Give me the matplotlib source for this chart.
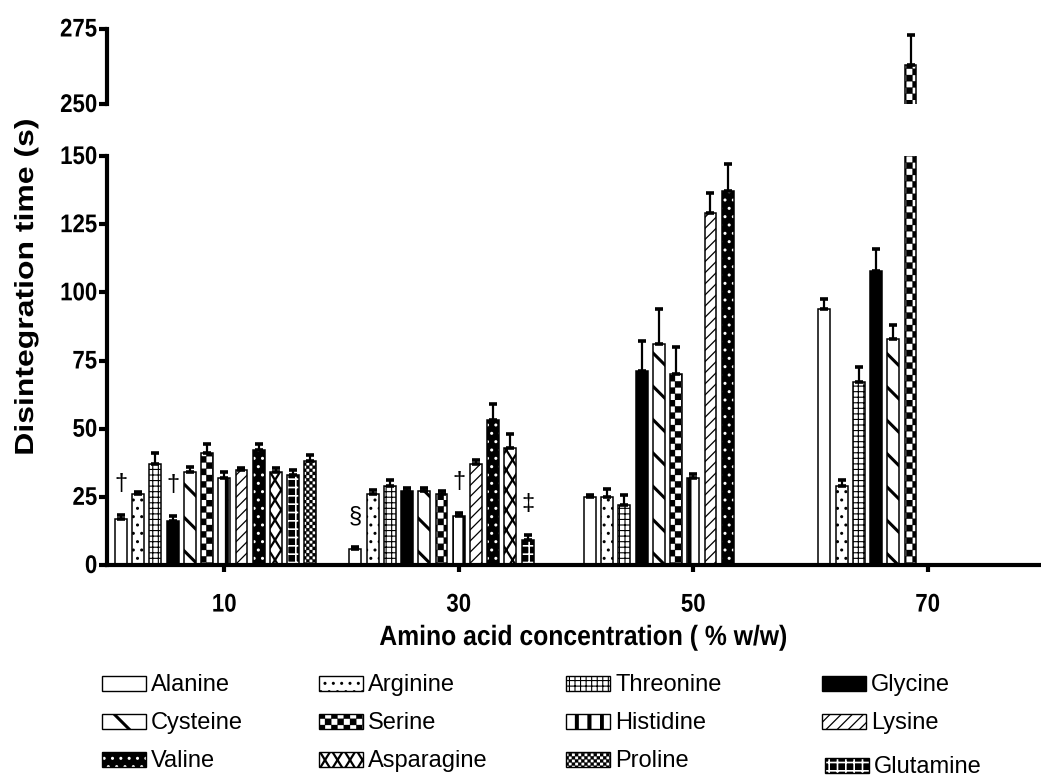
import warnings
import numpy as np
import matplotlib
matplotlib.use("Agg")
import matplotlib.pyplot as plt
from matplotlib import hatch as mhatch
from matplotlib import patheffects
from matplotlib.path import Path
from matplotlib.transforms import Affine2D
from matplotlib.patches import Rectangle

warnings.filterwarnings("ignore", category=matplotlib.MatplotlibDeprecationWarning)

# ---------------------------------------------------------------- data
concentrations = ["10", "30", "50", "70"]
amino_acids = ["Alanine", "Arginine", "Threonine", "Glycine", "Cysteine",
               "Serine", "Histidine", "Lysine", "Valine", "Asparagine",
               "Glutamine", "Proline"]
nan = np.nan
# mean disintegration time (s), one list per concentration, in amino_acids order
mean_10 = [17, 26, 37, 16, 34, 41, 32, 35, 42, 34, 33, 38]
mean_30 = [6, 26, 29, 27, 27, 26, 18, 37, 53, 43, 9, nan]
mean_50 = [25, 25, 22, 71, 81, 70, 32, 129, 137, nan, nan, nan]
mean_70 = [94, 29, 67, 108, 83, 263, nan, nan, nan, nan, nan, nan]
# standard deviations (upper error bars)
sd_10 = [1.5, 0.6, 4, 2, 2, 3.5, 2, 0.7, 2.5, 1.5, 2, 2.4]
sd_30 = [0.6, 1.6, 2, 1.4, 1.4, 1, 1.2, 1.5, 6, 5, 2, nan]
sd_50 = [0.8, 3, 3.5, 11, 13, 10, 1.4, 7.5, 10, nan, nan, nan]
sd_70 = [3.5, 2, 5.5, 8, 5, 10, nan, nan, nan, nan, nan, nan]
# significance marks: (symbol, concentration index, amino acid)
marks = [("\u2020", 0, "Alanine"), ("\u2020", 0, "Glycine"),
         ("\u00a7", 1, "Alanine"), ("\u2020", 1, "Histidine"),
         ("\u2021", 1, "Glutamine")]
legend_rows = [["Alanine", "Arginine", "Threonine", "Glycine"],
               ["Cysteine", "Serine", "Histidine", "Lysine"],
               ["Valine", "Asparagine", "Proline", "Glutamine"]]


# ------------------------------------------------------- extra hatches
class Chequer(mhatch.HatchPatternBase):
    """Filled chequerboard squares; 'c' coarse, 'cc' fine."""
    def __init__(self, hatch, density):
        k = hatch.count("c")
        self.n = 16 * k
        self.num_vertices = (self.n * self.n // 2) * 5

    def set_vertices_and_codes(self, vertices, codes):
        n = self.n
        s = 1.0 / n
        k = 0
        for i in range(n):
            for j in range(n):
                if (i + j) % 2:
                    continue
                x0, y0 = i * s, j * s
                vertices[k:k + 5] = [(x0, y0), (x0 + s, y0), (x0 + s, y0 + s),
                                     (x0, y0 + s), (x0, y0)]
                codes[k] = Path.MOVETO
                codes[k + 1:k + 4] = Path.LINETO
                codes[k + 4] = Path.CLOSEPOLY
                k += 5


class WideStripes(mhatch.HatchPatternBase):
    """Thick filled vertical stripes ('v')."""
    def __init__(self, hatch, density):
        self.n = 8 * hatch.count("v")
        self.num_vertices = self.n * 5

    def set_vertices_and_codes(self, vertices, codes):
        s = 1.0 / self.n
        w = 0.038
        for i in range(self.n):
            x0 = i * s
            k = 5 * i
            vertices[k:k + 5] = [(x0, 0), (x0 + w, 0), (x0 + w, 1), (x0, 1), (x0, 0)]
            codes[k] = Path.MOVETO
            codes[k + 1:k + 4] = Path.LINETO
            codes[k + 4] = Path.CLOSEPOLY


class SteepLattice(mhatch.HatchPatternBase):
    """Crossed steep diagonals forming tall diamonds ('z')."""
    slope = 1.6          # rise per tile width
    gap = 0.2            # vertical gap between parallel lines
    offsets = np.arange(-2.0, 3.0001, 0.2)

    def __init__(self, hatch, density):
        self.on = hatch.count("z") > 0
        self.num_vertices = 4 * len(self.offsets) if self.on else 0

    def set_vertices_and_codes(self, vertices, codes):
        m = len(self.offsets)
        b = self.offsets
        vertices[0:2 * m:2, 0] = 0.0
        vertices[0:2 * m:2, 1] = b
        vertices[1:2 * m:2, 0] = 1.0
        vertices[1:2 * m:2, 1] = b + self.slope
        vertices[2 * m::2, 0] = 0.0
        vertices[2 * m::2, 1] = b
        vertices[2 * m + 1::2, 0] = 1.0
        vertices[2 * m + 1::2, 1] = b - self.slope
        codes[0::2] = Path.MOVETO
        codes[1::2] = Path.LINETO


mhatch._hatch_types.extend([Chequer, WideStripes, SteepLattice])


class Stretch(patheffects.AbstractPathEffect):
    """Scale glyphs along their own vertical direction."""
    def __init__(self, sy):
        super().__init__()
        self._sy = sy

    def draw_path(self, renderer, gc, tpath, affine, rgbFace=None):
        renderer.draw_path(gc, tpath, Affine2D().scale(1.0, self._sy) + affine, rgbFace)


# face colour, hatch, hatch colour, hatch line width
styles = {
    "Alanine":    ("white", None, "black", 1.0),
    "Arginine":   ("white", "..", "black", 1.0),
    "Threonine":  ("white", "+++", "black", 0.8),
    "Glycine":    ("black", None, "black", 1.0),
    "Cysteine":   ("white", "\\", "black", 2.2),
    "Serine":     ("white", "c", "black", 0.2),
    "Histidine":  ("white", "v", "black", 0.2),
    "Lysine":     ("white", "///", "black", 0.9),
    "Valine":     ("black", "..", "white", 1.0),
    "Asparagine": ("white", "z", "black", 1.6),
    "Glutamine":  ("black", "++", "white", 1.2),
    "Proline":    ("white", "cc", "black", 0.2),
}

plt.rcParams["font.family"] = ["Liberation Sans", "DejaVu Sans"]


def hatched_patches(draw, fc, hatch, hc, hlw, edge_lw):
    """Draw a filled, hatched patch set and its black outline."""
    with plt.rc_context({"hatch.linewidth": hlw}):
        if fc == "black" and hatch:
            arts = draw(dict(facecolor="black", edgecolor=hc, hatch=hatch, linewidth=0))
            outline = draw(dict(fill=False, edgecolor="black", linewidth=edge_lw))
        else:
            arts = draw(dict(facecolor=fc, edgecolor="black", hatch=hatch, linewidth=edge_lw))
            outline = []
    for p in list(arts):
        if hasattr(p, "set_hatch_linewidth"):
            p.set_hatch_linewidth(hlw)
    return arts, outline


# -------------------------------------------------------------- figure
W, H = 1041, 782
fig = plt.figure(figsize=(W / 100, H / 100), dpi=100)
left, right = 107, 1045
ax_lo = fig.add_axes([left / W, (H - 565) / H, (right - left) / W, (565 - 156) / H])
ax_hi = fig.add_axes([left / W, (H - 104) / H, (right - left) / W, (104 - 28.5) / H])

means = np.array([mean_10, mean_30, mean_50, mean_70], dtype=float)
sds = np.array([sd_10, sd_30, sd_50, sd_70], dtype=float)
xc = np.arange(len(concentrations))
step, width = 0.0735, 0.051
centre = 6

for ax in (ax_lo, ax_hi):
    for i, name in enumerate(amino_acids):
        vals = means[:, i]
        errs = sds[:, i]
        ok = ~np.isnan(vals)
        pos = xc[ok] + (i - centre) * step
        fc, hatch, hc, hlw = styles[name]
        hatched_patches(lambda kw: ax.bar(pos, vals[ok], width, **kw),
                        fc, hatch, hc, hlw, 1.1)
        ax.errorbar(pos, vals[ok], yerr=[np.zeros(ok.sum()), errs[ok]],
                    fmt="none", ecolor="black", elinewidth=1.6,
                    capsize=2.6, capthick=2.6, zorder=3)

ax_lo.set_xlim(-0.5, 3.5)
ax_hi.set_xlim(-0.5, 3.5)
ax_lo.set_ylim(0, 150)
ax_hi.set_ylim(250, 275)
ax_lo.set_yticks(np.arange(0, 151, 25))
ax_hi.set_yticks([250, 275])
ax_lo.set_xticks(xc, concentrations)
ax_hi.set_xticks([])

for ax in (ax_lo, ax_hi):
    for s in ("top", "right"):
        ax.spines[s].set_visible(False)
    for s in ("left", "bottom"):
        ax.spines[s].set_linewidth(3)
    ax.tick_params(axis="y", direction="out", length=6, width=3, pad=1,
                   labelsize=16)
    ax.patch.set_visible(False)
ax_hi.spines["bottom"].set_visible(False)
ax_lo.tick_params(axis="x", direction="out", length=5, width=3, pad=17,
                  labelsize=16)

tick_fx = [Stretch(1.15)]
for ax in (ax_lo, ax_hi):
    for lab in ax.get_yticklabels() + ax.get_xticklabels():
        lab.set_fontweight("bold")
        lab.set_path_effects(tick_fx)

# significance marks above the error bars
for sym, gi, name in marks:
    i = amino_acids.index(name)
    top = means[gi, i] + sds[gi, i]
    ax_lo.annotate(sym, xy=(xc[gi] + (i - centre) * step, top),
                   xytext=(0, 22), textcoords="offset points",
                   ha="center", va="center", fontsize=17)

# axis titles
fig.text(583 / W, 1 - 645 / H, "Amino acid concentration ( % w/w)",
         ha="center", va="baseline", fontsize=17.8, fontweight="bold",
         path_effects=[Stretch(1.13)])
fig.text(25 / W, 1 - 287 / H, "Disintegration time (s)", rotation=90,
         ha="center", va="center", fontsize=23, fontweight="bold",
         path_effects=[Stretch(0.82)])

# ------------------------------------------------------------- legend
leg = fig.add_axes([0, 0, 1, 1])
leg.set_xlim(0, W)
leg.set_ylim(H, 0)
leg.axis("off")
col_x = [102, 319, 566, 822]
row_y = [683, 721, 759]
sw, sh = 44, 15
for r, row in enumerate(legend_rows):
    for c, name in enumerate(row):
        x0 = col_x[c] + (3 if name == "Glutamine" else 0)
        yc = row_y[r] + (6 if name == "Glutamine" else 0)
        fc, hatch, hc, hlw = styles[name]

        def draw(kw, x0=x0, yc=yc):
            p = Rectangle((x0, yc - sh / 2), sw, sh, **kw)
            leg.add_patch(p)
            return [p]

        hatched_patches(draw, fc, hatch, hc, hlw, 1.0)
        leg.text(x0 + sw + 5, yc + 8, name, ha="left", va="baseline",
                 fontsize=17)

fig.savefig("out.png", dpi=100)
